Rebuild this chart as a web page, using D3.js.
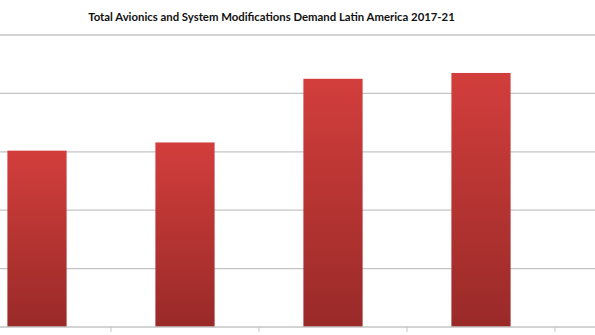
<!DOCTYPE html>
<html>
<head>
<meta charset="utf-8">
<script src="https://cdn.jsdelivr.net/npm/d3@7"></script>
<style>
  html, body { margin: 0; padding: 0; background: #fff; }
  svg { display: block; }
</style>
</head>
<body>
<svg id="chart" width="595" height="335"></svg>
<script>
// Demand by year (gridline units); the 2021 column falls past the right edge
const years = ["2017", "2018", "2019", "2020", "2021"];
const demand = [3.02, 3.16, 4.25, 4.35];
const gridTicks = [0, 1, 2, 3, 4, 5];
const title = "Total Avionics and System Modifications Demand Latin America 2017-21";

const svg = d3.select("#chart");
const W = 595, H = 335;

const x = d3.scaleBand().domain(years).range([-37, 703]).paddingInner(0).paddingOuter(0);
const y = d3.scaleLinear().domain([0, 5]).range([327, 35]);

// bar gradient: bright red on top, darker toward the base
const defs = svg.append("defs");
const grad = defs.append("linearGradient")
  .attr("id", "barGrad").attr("x1", 0).attr("y1", 0).attr("x2", 0).attr("y2", 1);
grad.append("stop").attr("offset", "0%").attr("stop-color", "#d23e3c");
grad.append("stop").attr("offset", "100%").attr("stop-color", "#992a28");

// horizontal gridlines
svg.append("g").selectAll("line")
  .data(gridTicks.filter(d => d > 0))
  .join("line")
  .attr("x1", 0).attr("x2", W)
  .attr("y1", d => y(d)).attr("y2", d => y(d))
  .attr("stroke", "#c4c4c4").attr("stroke-width", 1.3);

// bars
const barW = x.bandwidth() * 0.4;
svg.append("g").selectAll("rect")
  .data(demand)
  .join("rect")
  .attr("x", (d, i) => x(years[i]) + (x.bandwidth() - barW) / 2)
  .attr("y", d => y(d))
  .attr("width", barW)
  .attr("height", d => y(0) - y(d))
  .attr("fill", "url(#barGrad)");

// category axis with ticks between columns
const axis = d3.axisBottom(x).tickSize(0).tickFormat("");
const gx = svg.append("g").attr("transform", `translate(0,${y(0)})`).call(axis);
gx.select(".domain").remove();
gx.append("line").attr("x1", 0).attr("x2", W).attr("y1", 0).attr("y2", 0)
  .attr("stroke", "#c4c4c4").attr("stroke-width", 1.3);
gx.selectAll(".sep")
  .data(years.slice(1))
  .join("line")
  .attr("class", "sep")
  .attr("x1", d => x(d)).attr("x2", d => x(d))
  .attr("y1", 0).attr("y2", 5)
  .attr("stroke", "#c4c4c4").attr("stroke-width", 1);

// title
const t = svg.append("text")
  .attr("x", 271.5).attr("y", 20.5)
  .attr("text-anchor", "middle")
  .attr("font-family", "Lato, 'Open Sans', sans-serif")
  .attr("font-weight", "bold")
  .attr("font-size", 12)
  .attr("fill", "#111")
  .text(title);
const len = t.node().getComputedTextLength();
t.attr("font-size", 12 * 367 / len);
</script>
</body>
</html>
